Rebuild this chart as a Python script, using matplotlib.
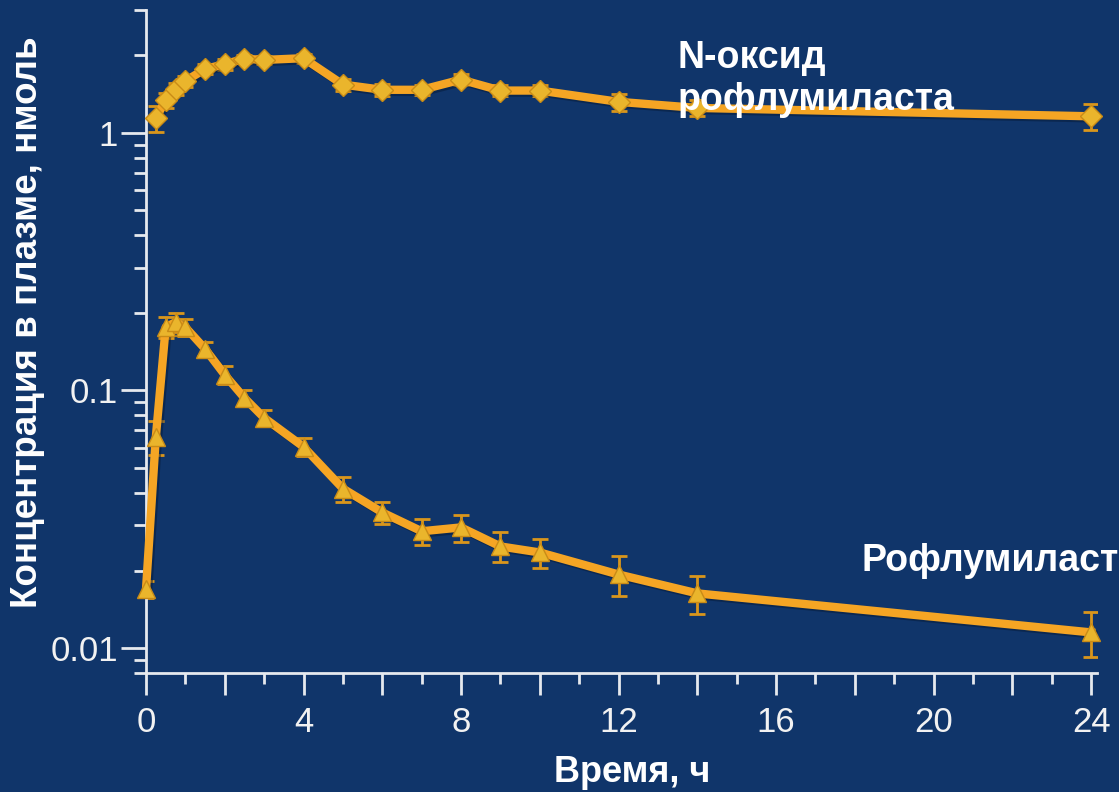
import matplotlib.pyplot as plt
import matplotlib.patheffects as pe
from matplotlib.ticker import FixedLocator, NullFormatter

# N-oxide of roflumilast, nmol
noxide_time = [0.25, 0.5, 0.75, 1, 1.5, 2, 2.5, 3, 4, 5, 6, 7, 8, 9, 10, 12, 14, 24]
noxide_conc = [1.14, 1.34, 1.48, 1.59, 1.77, 1.85, 1.94, 1.92, 1.95, 1.54, 1.47, 1.47,
               1.61, 1.46, 1.46, 1.32, 1.25, 1.16]
noxide_err = [0.13, 0.09, 0.08, 0.08, 0.08, 0.09, 0.07, 0.07, 0.08, 0.08, 0.08, 0.07,
              0.08, 0.07, 0.07, 0.10, 0.09, 0.13]

# roflumilast, nmol
rofl_time = [0, 0.25, 0.5, 0.75, 1, 1.5, 2, 2.5, 3, 4, 5, 6, 7, 8, 9, 10, 12, 14, 24]
rofl_conc = [0.0169, 0.066, 0.176, 0.184, 0.176, 0.145, 0.115, 0.0935, 0.0783, 0.0604,
             0.0416, 0.0336, 0.0284, 0.0294, 0.0248, 0.0235, 0.0193, 0.0163, 0.0115]
rofl_err = [0.0013, 0.010, 0.016, 0.016, 0.013, 0.0095, 0.009, 0.0065, 0.0058, 0.0048,
            0.0047, 0.0034, 0.0033, 0.0035, 0.0033, 0.003, 0.0034, 0.0028, 0.0023]

x_ticks = [0, 4, 8, 12, 16, 20, 24]
y_ticks = [0.01, 0.1, 1]
y_ticklabels = ['0.01', '0.1', '1']

bg = '#10356a'
axis_col = '#e6e9ee'
line_col = '#f5a524'
marker_col = '#eab52c'
err_col = '#d9961c'

plt.rcParams['font.family'] = ['Liberation Sans', 'DejaVu Sans']

fig = plt.figure(figsize=(11.19, 7.92), dpi=100, facecolor=bg)
ax = fig.add_axes([146 / 1119, 1 - 673 / 792, 951 / 1119, 663 / 792])
ax.set_facecolor(bg)

shadow = [pe.SimpleLineShadow(offset=(1.5, -1.5), shadow_color='#061a38', alpha=0.5), pe.Normal()]

for t, c, e, m in [(noxide_time, noxide_conc, noxide_err, 'D'),
                   (rofl_time, rofl_conc, rofl_err, '^')]:
    ax.errorbar(t, c, yerr=e, fmt='none', ecolor=err_col, elinewidth=2,
                capsize=6, capthick=2, zorder=2)
    ax.plot(t, c, color=line_col, lw=6, solid_joinstyle='round', zorder=3,
            path_effects=shadow, clip_on=False)
    ax.plot(t, c, linestyle='none', marker=m, markersize=11 if m == 'D' else 13,
            markerfacecolor=marker_col, markeredgecolor='#c98b16', markeredgewidth=1,
            zorder=4, clip_on=False)

ax.set_yscale('log')
ax.set_xlim(0, 24.15)
ax.set_ylim(0.008, 3)

for s in ['top', 'right']:
    ax.spines[s].set_visible(False)
for s in ['left', 'bottom']:
    ax.spines[s].set_color(axis_col)
    ax.spines[s].set_linewidth(2)

ax.set_xticks(x_ticks)
ax.yaxis.set_major_locator(FixedLocator(y_ticks))
ax.set_yticklabels(y_ticklabels)
minor_y = [k * d for d in (0.001, 0.01, 0.1, 1) for k in range(2, 10)]
ax.yaxis.set_minor_locator(FixedLocator(minor_y))
ax.yaxis.set_minor_formatter(NullFormatter())

ax.tick_params(axis='both', which='both', direction='out', colors=axis_col,
               width=2, labelsize=25, labelcolor='#f2f2f2')
ax.tick_params(axis='y', which='major', length=18, pad=2)
ax.tick_params(axis='y', which='minor', length=9)
ax.tick_params(axis='x', which='major', length=16, pad=8)
ax.tick_params(axis='x', which='minor', length=8)
# hourly minor ticks, every second hour gets a longer tick
minor_h = [h for h in range(0, 25) if h % 4 != 0]
ax.xaxis.set_minor_locator(FixedLocator(minor_h))
for tick, h in zip(ax.xaxis.get_minor_ticks(), minor_h):
    if h % 2 == 0:
        tick.tick1line.set_markersize(16)

fig.text(678 / 1119, 1 - 40 / 792, 'N-оксид\nрофлумиласта', color='white',
         fontsize=27, fontweight='bold', ha='left', va='top', linespacing=1.2, zorder=10)
fig.text(862 / 1119, 1 - 571 / 792, 'Рофлумиласт', color='white',
         fontsize=27, fontweight='bold', ha='left', va='baseline', zorder=10)

fig.text(632 / 1119, 1 - 772 / 792, 'Время, ч', color='white', fontsize=26,
         fontweight='bold', ha='center', va='center')
fig.text(28 / 1119, 1 - 322 / 792, 'Концентрация в плазме, нмоль', color='white',
         fontsize=26.5, fontweight='bold', ha='center', va='center', rotation=90)

fig.savefig('out.png', dpi=100, facecolor=bg)
